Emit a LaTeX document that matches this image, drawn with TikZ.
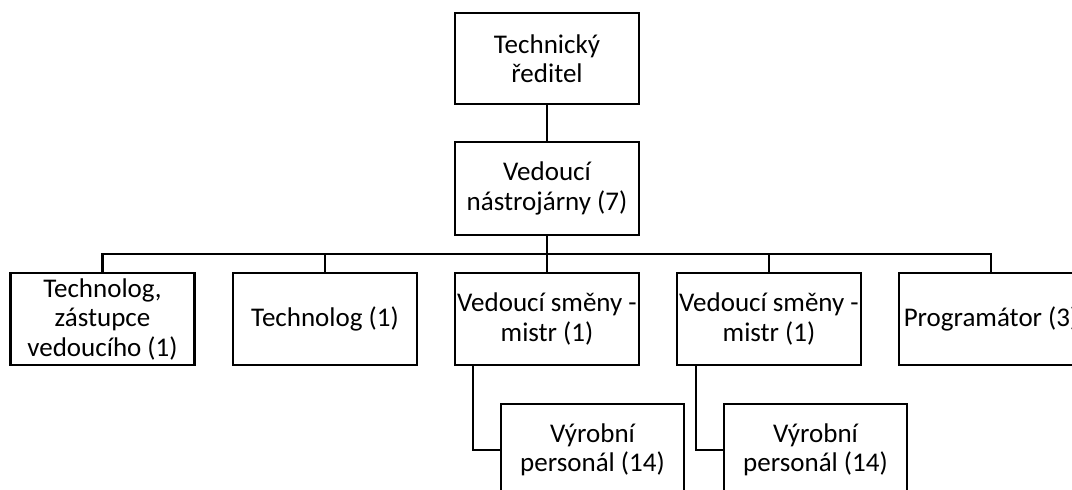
\documentclass[tikz,border=0pt]{standalone}
\usepackage{fontspec}
\setmainfont{Carlito}
\begin{document}
\begin{tikzpicture}[x=1pt,y=-1pt,
  orgbox/.style={draw=black, fill=white, line width=2.8pt, inner sep=0pt,
    minimum width=184pt, minimum height=92pt, align=center,
    font=\fontsize{27}{29.5}\selectfont},
  link/.style={draw=black, line width=2.8pt}]
  \useasboundingbox (0,0) rectangle (1072,490);
  \clip (0,0) rectangle (1072,490);
  \fill[white] (0,0) rectangle (1072,490);

  % top of the hierarchy
  \node[orgbox, minimum height=91pt] (ted) at (547,58.5) {Technický\\ředitel};
  \node[orgbox, minimum height=93pt] (ved) at (547,188.5) {Vedoucí\\nástrojárny (7)};

  % direct reports
  \node[orgbox] (tz) at (102.5,319) {Technolog,\\zástupce\\vedoucího (1)};
  \node[orgbox] (tg) at (325,319) {Technolog (1)};
  \node[orgbox] (m1) at (547,319) {Vedoucí směny -\\mistr (1)};
  \node[orgbox] (m2) at (769,319) {Vedoucí směny -\\mistr (1)};
  \node[orgbox] (pg) at (991,319) {Programátor (3)};

  % production staff under each shift leader
  \node[orgbox, minimum width=183pt] (p1) at (592.5,450) {Výrobní\\personál (14)};
  \node[orgbox, minimum width=183pt] (p2) at (815.5,450) {Výrobní\\personál (14)};

  % connectors
  \coordinate (bus) at (547,254);
  \draw[link] (ted.south) -- (ved.north);
  \draw[link] (ved.south) -- (m1.north);
  \draw[link] (tz.north) |- (bus) -| (pg.north);
  \draw[link] (tg.north) |- (bus);
  \draw[link] (m2.north) |- (bus);

  \coordinate (d1) at (473,365);
  \coordinate (d2) at (696,365);
  \draw[link] (d1) |- (p1.west);
  \draw[link] (d2) |- (p2.west);
\end{tikzpicture}
\end{document}
